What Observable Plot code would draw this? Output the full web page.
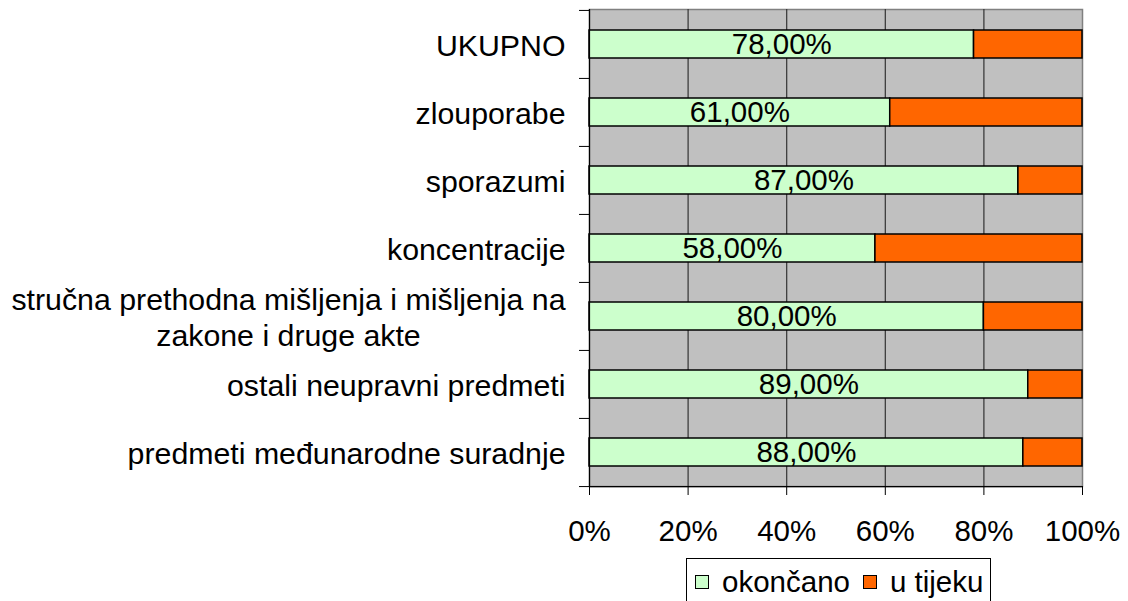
<!DOCTYPE html>
<html>
<head>
<meta charset="utf-8">
<script src="https://cdn.jsdelivr.net/npm/d3@7"></script>
<script src="https://cdn.jsdelivr.net/npm/@observablehq/plot@0.6"></script>
<style>
  html, body { margin: 0; padding: 0; background: #fff; overflow: hidden; }
  #wrap { position: relative; width: 1128px; height: 601px; font-family: "Liberation Sans", Arial, sans-serif; }
  #legend {
    position: absolute; left: 686px; top: 558px; width: 305px;
    box-sizing: border-box; border: 1px solid #000; border-bottom: none; background: #fff;
    display: flex; align-items: center; height: 46px; padding-left: 8px;
    font-size: 29.5px; line-height: 30px; color: #000;
  }
  .sw { width: 14px; height: 14px; box-sizing: border-box; border: 1px solid #000; flex: none; }
</style>
</head>
<body>
<div id="wrap"><div id="chart"></div><div id="legend"></div></div>
<script>
// ---- data ----
const categories = [
  "UKUPNO",
  "zlouporabe",
  "sporazumi",
  "koncentracije",
  "stručna prethodna mišljenja i mišljenja na zakone i druge akte",
  "ostali neupravni predmeti",
  "predmeti međunarodne suradnje"
];
const categoryLabels = [
  "UKUPNO",
  "zlouporabe",
  "sporazumi",
  "koncentracije",
  "stručna prethodna mišljenja i mišljenja na\nzakone i druge akte",
  "ostali neupravni predmeti",
  "predmeti međunarodne suradnje"
];
const completed = [78, 61, 87, 58, 80, 89, 88];   // okončano (%)
const ongoing   = [22, 39, 13, 42, 20, 11, 12];   // u tijeku (%)
const seriesNames = ["okončano", "u tijeku"];
const seriesColors = ["#CCFFCC", "#FF6600"];
const xTicks = [0, 20, 40, 60, 80, 100];

// ---- build table ----
const rows = [];
categories.forEach((c, i) => {
  rows.push({cat: c, status: seriesNames[0], value: completed[i]});
  rows.push({cat: c, status: seriesNames[1], value: ongoing[i]});
});
const labelRows = categories.map((c, i) => ({cat: c, v: completed[i]}));
const labelOf = new Map(categories.map((c, i) => [c, categoryLabels[i]]));

const W = 1128, H = 550;
const mTop = 9, mBottom = 64, mLeft = 589, mRight = 46;
const step = (H - mTop - mBottom) / categories.length;
const FS = 29.5;
const FSCAT = 30.3;
const fmt = v => v.toFixed(2).replace(".", ",") + "%";

const plot = Plot.plot({
  width: W, height: H,
  marginTop: mTop, marginBottom: mBottom, marginLeft: mLeft, marginRight: mRight,
  style: {fontFamily: '"Liberation Sans", Arial, sans-serif', fontSize: FS + "px", color: "#000", background: "transparent"},
  x: {domain: [0, 100]},
  y: {domain: categories, paddingInner: 0.59, paddingOuter: 0.295, align: 0.5},
  color: {domain: seriesNames, range: seriesColors},
  marks: [
    Plot.frame({fill: "#C0C0C0", stroke: "#808080", strokeWidth: 1.5}),
    Plot.ruleX(xTicks.filter(t => t > 0 && t < 100), {stroke: "#333", strokeWidth: 1.2}),
    Plot.barX(rows, {y: "cat", x: "value", fill: "status", stroke: "#000", strokeWidth: 1.5, order: null}),
    Plot.text(labelRows, {y: "cat", x: d => d.v / 2, text: d => fmt(d.v), fill: "#000", fontSize: FS}),
    Plot.ruleX([0], {stroke: "#000", strokeWidth: 1.2}),
    Plot.tickY(categories.slice(-1), {y: d => d, dy: step / 2, stroke: "#000", strokeWidth: 1.2}),
    // category-boundary ticks on the left axis
    Plot.axisY(categories, {tickSize: 10, tickFormat: () => "", dy: -step / 2, label: null, stroke: "#000"}),
    Plot.axisY(categories.slice(-1), {tickSize: 10, tickFormat: () => "", dy: step / 2, label: null, stroke: "#000"}),
    // category labels
    Plot.axisY({tickSize: 0, tickPadding: 24, tickFormat: d => labelOf.get(d), fontSize: FSCAT, lineHeight: 1.2, label: null, fill: "#000"}),
    Plot.axisX({ticks: xTicks, tickFormat: d => d + "%", tickSize: 9, tickPadding: 25, fontSize: FS, label: null, stroke: "#000", fill: "#000"})
  ]
});
document.getElementById("chart").appendChild(plot);

// center multi-line category label lines relative to each other
plot.querySelectorAll("text").forEach(t => {
  const spans = t.querySelectorAll("tspan");
  if (spans.length > 1) {
    let maxW = 0;
    spans.forEach(s => { maxW = Math.max(maxW, s.getComputedTextLength()); });
    t.setAttribute("text-anchor", "middle");
    spans.forEach(s => s.setAttribute("x", -maxW / 2));
  }
});

// legend
const lg = document.getElementById("legend");
seriesNames.forEach((n, i) => {
  const sw = document.createElement("span");
  sw.className = "sw";
  sw.style.background = seriesColors[i];
  sw.style.marginRight = "13px";
  lg.appendChild(sw);
  const tx = document.createElement("span");
  tx.textContent = n;
  tx.style.marginRight = i === 0 ? "13px" : "0";
  lg.appendChild(tx);
});
</script>
</body>
</html>
